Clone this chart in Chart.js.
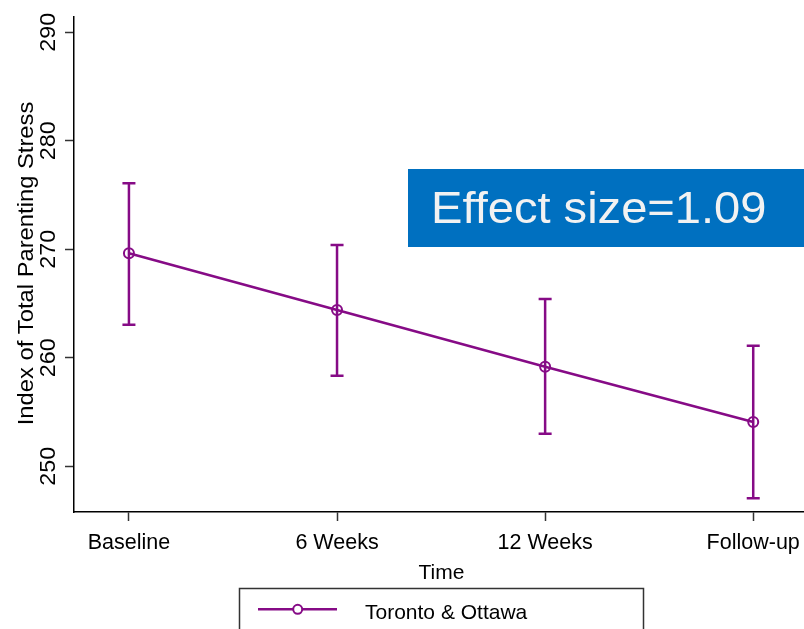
<!DOCTYPE html>
<html>
<head>
<meta charset="utf-8">
<script src="https://cdn.jsdelivr.net/npm/chart.js@4/dist/chart.umd.min.js"></script>
<style>
html,body{margin:0;padding:0;background:#fff;}
#wrap{width:804px;height:629px;position:relative;}
</style>
</head>
<body>
<div id="wrap"><canvas id="c" width="804" height="629"></canvas></div>
<script>
// ---- data ----
const categories = ["Baseline", "6 Weeks", "12 Weeks", "Follow-up"];
const means = [269.63, 264.41, 259.18, 254.08];
const ciLow = [263.05, 258.35, 253.0, 247.05];
const ciHigh = [276.08, 270.4, 265.42, 261.12];
const yTicks = [250, 260, 270, 280, 290];
const seriesName = "Toronto & Ottawa";
const yTitle = "Index of Total Parenting Stress";
const xTitle = "Time";
const note = "Effect size=1.09";

const PURPLE = '#860b86';
const FONT = 'Arial, "Liberation Sans", sans-serif';

function txt(ctx, s, x, y, size, opts) {
  opts = opts || {};
  ctx.save();
  ctx.translate(x, y);
  if (opts.rot) ctx.rotate(opts.rot);
  ctx.scale(opts.sx || 1, opts.sy || 1);
  ctx.font = size + 'px ' + FONT;
  ctx.fillStyle = opts.color || '#000';
  ctx.textAlign = opts.align || 'center';
  ctx.textBaseline = 'alphabetic';
  ctx.fillText(s, 0, 0);
  ctx.restore();
}

const decor = {
  id: 'decor',
  afterDatasetsDraw(chart) {
    const ctx = chart.ctx;
    const xs = chart.scales.x, ys = chart.scales.y;
    // error bars
    ctx.save();
    ctx.strokeStyle = PURPLE;
    ctx.lineWidth = 2.5;
    for (let i = 0; i < categories.length; i++) {
      const px = xs.getPixelForValue(i);
      const lo = ys.getPixelForValue(ciLow[i]);
      const hi = ys.getPixelForValue(ciHigh[i]);
      ctx.beginPath();
      ctx.moveTo(px, lo); ctx.lineTo(px, hi);
      ctx.moveTo(px - 6.5, lo); ctx.lineTo(px + 6.5, lo);
      ctx.moveTo(px - 6.5, hi); ctx.lineTo(px + 6.5, hi);
      ctx.stroke();
    }
    ctx.restore();
  },
  afterDraw(chart) {
    const ctx = chart.ctx;
    const xs = chart.scales.x, ys = chart.scales.y;
    // y tick labels (rotated)
    yTicks.forEach(v => {
      txt(ctx, String(v), 55, ys.getPixelForValue(v), 22, {rot: -Math.PI / 2, sx: 1.06});
    });
    // y title
    txt(ctx, yTitle, 33, 263.5, 22, {rot: -Math.PI / 2, sx: 1.08});
    // x tick labels
    categories.forEach((c, i) => {
      txt(ctx, c, xs.getPixelForValue(i), 549, 21.5);
    });
    // x title
    txt(ctx, xTitle, 441.5, 578.5, 21);
    // legend
    ctx.save();
    ctx.strokeStyle = '#333';
    ctx.lineWidth = 1.5;
    ctx.strokeRect(239.5, 588.5, 404, 60);
    ctx.strokeStyle = PURPLE;
    ctx.lineWidth = 2.5;
    ctx.beginPath(); ctx.moveTo(258, 609.3); ctx.lineTo(337, 609.3); ctx.stroke();
    ctx.fillStyle = '#fff';
    ctx.lineWidth = 2;
    ctx.beginPath(); ctx.arc(297.7, 609.3, 4.5, 0, Math.PI * 2); ctx.fill(); ctx.stroke();
    ctx.restore();
    txt(ctx, seriesName, 365, 619, 21, {align: 'left'});
    // effect size box
    ctx.save();
    ctx.fillStyle = '#0070c0';
    ctx.fillRect(408, 169, 396, 78);
    ctx.restore();
    txt(ctx, note, 431, 223, 44, {align: 'left', color: '#f2f2f2', sx: 1.07});
  }
};

new Chart(document.getElementById('c'), {
  type: 'line',
  data: {
    datasets: [{
      label: seriesName,
      data: means.map((m, i) => ({x: i, y: m})),
      borderColor: PURPLE,
      borderWidth: 2.5,
      backgroundColor: 'rgba(0,0,0,0)',
      pointBackgroundColor: 'rgba(0,0,0,0)',
      pointBorderColor: PURPLE,
      pointBorderWidth: 2,
      pointRadius: 5,
      pointStyle: 'circle',
      tension: 0,
      fill: false
    }]
  },
  options: {
    responsive: false,
    animation: false,
    devicePixelRatio: 1,
    layout: {autoPadding: false, padding: {top: 17, right: 0, left: 0, bottom: 0}},
    plugins: {legend: {display: false}, tooltip: {enabled: false}},
    scales: {
      x: {
        type: 'linear',
        min: -0.264,
        max: 3.244,
        afterBuildTicks: s => { s.ticks = categories.map((c, i) => ({value: i})); },
        afterFit: s => { s.height = 117; },
        ticks: {display: false},
        grid: {drawOnChartArea: false, drawTicks: true, tickLength: 9, tickColor: '#333', tickWidth: 1.5},
        border: {display: true, color: '#000', width: 1.5}
      },
      y: {
        type: 'linear',
        min: 245.79,
        max: 291.41,
        afterBuildTicks: s => { s.ticks = yTicks.map(v => ({value: v})); },
        afterFit: s => { s.width = 74; },
        ticks: {display: false},
        grid: {drawOnChartArea: false, drawTicks: true, tickLength: 9, tickColor: '#333', tickWidth: 1.5},
        border: {display: true, color: '#000', width: 1.5}
      }
    }
  },
  plugins: [decor]
});
</script>
</body>
</html>
